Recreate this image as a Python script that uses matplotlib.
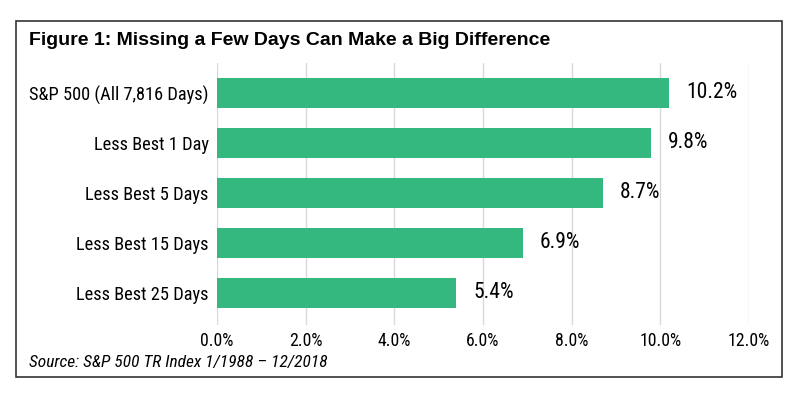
import matplotlib.pyplot as plt
from matplotlib.patches import Rectangle
from matplotlib import font_manager

categories = [
    "S&P 500 (All 7,816 Days)",
    "Less Best 1 Day",
    "Less Best 5 Days",
    "Less Best 15 Days",
    "Less Best 25 Days",
]
returns = [10.2, 9.8, 8.7, 6.9, 5.4]
xticks = [0, 2, 4, 6, 8, 10, 12]

# condensed face if there is one, else Roboto
names = {f.name for f in font_manager.fontManager.ttflist}
narrow = "Roboto"
for n in ["Roboto Condensed", "Liberation Sans Narrow"]:
    if n in names:
        narrow = n
        break

fig = plt.figure(figsize=(7.96, 4.01), dpi=100)
ax = fig.add_axes([0.2726, 0.190, 0.6684, 0.653])

ax.barh(range(len(categories)), returns, height=0.6, color="#35b87f", zorder=2)
ax.set_ylim(4.64, -0.6)
ax.set_xlim(0, 12)
ax.set_xticks(xticks)
ax.set_xticklabels([f"{v:.1f}%" for v in xticks], fontsize=12.8, family=narrow)
ax.set_yticks(range(len(categories)))
ax.set_yticklabels(categories, fontsize=13.2, family=narrow)
ax.tick_params(length=0, pad=6)
ax.tick_params(axis="x", pad=5)
ax.grid(axis="x", color="#d9d9d9", linewidth=1, zorder=0)
for s in ax.spines.values():
    s.set_visible(False)

for i, v in enumerate(returns):
    ax.text(v + 0.38, i, f"{v:.1f}%", va="center", ha="left", fontsize=15.5, family=narrow)

fig.text(0.0365, 0.90, "Figure 1: Missing a Few Days Can Make a Big Difference",
         fontsize=14, fontweight="bold", family="Liberation Sans", va="center")
fig.text(0.0365, 0.095, "Source: S&P 500 TR Index 1/1988 \u2013 12/2018",
         fontsize=12.5, style="italic", family=narrow, va="center")

fig.patches.append(Rectangle((0.0201, 0.0599), 0.962, 0.888, transform=fig.transFigure,
                             fill=False, edgecolor="#333333", linewidth=1.2))

fig.savefig("out.png", dpi=100)
